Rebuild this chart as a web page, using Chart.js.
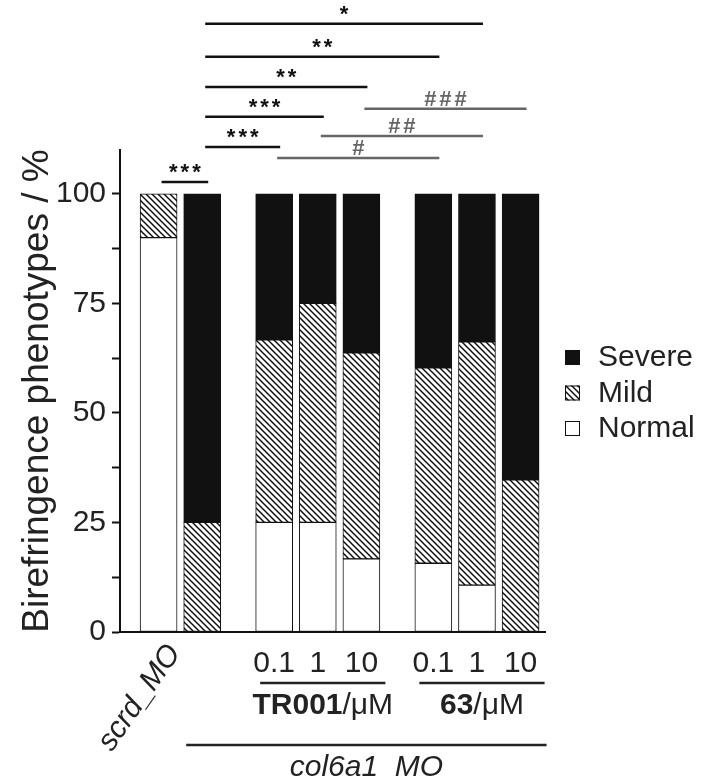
<!DOCTYPE html>
<html lang="en">
<head>
<meta charset="UTF-8">
<title>Birefringence phenotypes</title>
<style>
    body { margin: 0; background: #fff; }
    #chart { display: block; }
</style>
</head>
<body>
<canvas id="chart" width="703" height="782"></canvas>
<script src="https://cdn.jsdelivr.net/npm/chart.js"></script>
<script>
// ---- data (left to right) ----
const barLabels = ['scrd_MO', '', '0.1', '1', '10', '0.1', '1', '10'];
const barGroup = [0, 0, 1, 1, 1, 2, 2, 2];
const normal = [90, 0, 25, 25, 16.7, 15.7, 10.7, 0];
const mild = [10, 25, 41.7, 50, 47, 44.6, 55.5, 34.7];
const severe = [0, 75, 33.3, 25, 36.3, 39.7, 33.8, 65.3];
const yTicks = [0, 25, 50, 75, 100];
const groupNames = ['', 'TR001', '63'];
const groupUnit = '/\u03bcM';
const moLabel = 'col6a1  MO';

// significance comparisons (bar index from -> to)
const sigFrom = [0, 1, 1, 1, 1, 1, 2, 3, 4];
const sigTo = [1, 2, 3, 4, 5, 6, 5, 6, 7];
const sigText = ['***', '***', '***', '**', '**', '*', '#', '##', '###'];

// ---- layout ----
const FONT = 'Arial, "Liberation Sans", sans-serif';
const GROUP_GAP = 0.65;
const SIG_Y = [102.7, 110.7, 117.6, 124.4, 131.3, 138.8, 108.2, 113.2, 119.4];
const xPos = barGroup.map((g, i) => i + g * GROUP_GAP);

function hatch() {
    const c = document.createElement('canvas');
    c.width = 6; c.height = 6;
    const g = c.getContext('2d');
    g.fillStyle = '#fff';
    g.fillRect(0, 0, 6, 6);
    g.strokeStyle = '#111';
    g.lineWidth = 1.5;
    g.beginPath();
    g.moveTo(-1, -1); g.lineTo(7, 7);
    g.moveTo(-1, 5); g.lineTo(1, 7);
    g.moveTo(5, -1); g.lineTo(7, 1);
    g.stroke();
    return g.createPattern(c, 'repeat');
}
const HATCH = hatch();

const series = vals => vals.map((v, i) => ({ x: xPos[i], y: v }));
const barStyle = { borderColor: '#111', borderWidth: 1, borderSkipped: false, barThickness: 37 };

const extras = {
    id: 'extras',
    afterDraw(chart) {
        const ctx = chart.ctx, xs = chart.scales.x, ys = chart.scales.y;
        const px = i => xs.getPixelForValue(xPos[i]);
        ctx.save();

        // significance bars
        ctx.textAlign = 'center';
        ctx.textBaseline = 'alphabetic';
        sigFrom.forEach((f, k) => {
            const x1 = px(f), x2 = px(sigTo[k]);
            const yy = ys.getPixelForValue(SIG_Y[k]);
            const col = sigText[k][0] === '#' ? '#666' : '#111';
            ctx.strokeStyle = col;
            ctx.fillStyle = col;
            ctx.lineWidth = 2.5;
            ctx.beginPath();
            ctx.moveTo(x1 + 3, yy); ctx.lineTo(x2 + 6, yy);
            ctx.stroke();
            ctx.font = 'bold 22px ' + FONT;
            ctx.letterSpacing = '3px';
            ctx.fillText(sigText[k], (x1 + x2) / 2 + 6, yy - 3);
            ctx.letterSpacing = '0px';
        });

        ctx.fillStyle = '#222';
        ctx.strokeStyle = '#222';

        // scrd_MO rotated
        ctx.save();
        ctx.translate(px(0) + 16, 648);
        ctx.rotate(-55 * Math.PI / 180);
        ctx.font = 'italic 30px ' + FONT;
        ctx.textAlign = 'right';
        ctx.textBaseline = 'middle';
        ctx.fillText(barLabels[0], 0, 0);
        ctx.restore();

        // dose labels
        ctx.font = '30px ' + FONT;
        ctx.textAlign = 'center';
        ctx.textBaseline = 'middle';
        for (let i = 2; i < barLabels.length; i++) ctx.fillText(barLabels[i], px(i), 664);

        // group underlines and names
        ctx.lineWidth = 2.5;
        [1, 2].forEach(g => {
            const idx = barGroup.map((b, i) => b === g ? i : -1).filter(i => i >= 0);
            const a = px(idx[0]) - 14, b = px(idx[idx.length - 1]) + 24;
            ctx.beginPath(); ctx.moveTo(a, 683); ctx.lineTo(b, 683); ctx.stroke();
            ctx.font = 'bold 30px ' + FONT;
            const w1 = ctx.measureText(groupNames[g]).width;
            ctx.font = '30px ' + FONT;
            const w2 = ctx.measureText(groupUnit).width;
            const start = (a + b) / 2 - (w1 + w2) / 2;
            ctx.textAlign = 'left';
            ctx.font = 'bold 30px ' + FONT;
            ctx.fillText(groupNames[g], start, 706);
            ctx.font = '30px ' + FONT;
            ctx.fillText(groupUnit, start + w1, 706);
        });

        // col6a1 MO
        const l = px(1) - 16, r = px(7) + 26;
        ctx.beginPath(); ctx.moveTo(l, 745); ctx.lineTo(r, 745); ctx.stroke();
        ctx.font = 'italic 30px ' + FONT;
        ctx.textAlign = 'center';
        ctx.fillText(moLabel, (l + r) / 2, 768);

        // legend
        const items = [['Severe', '#111'], ['Mild', HATCH], ['Normal', '#fff']];
        ctx.textAlign = 'left';
        ctx.font = '30px ' + FONT;
        items.forEach((it, k) => {
            const cy = 358 + k * 35.5;
            ctx.fillStyle = it[1];
            ctx.fillRect(565, cy - 8, 15, 15);
            ctx.lineWidth = 1;
            ctx.strokeStyle = '#111';
            ctx.strokeRect(565.5, cy - 7.5, 14, 14);
            ctx.fillStyle = '#222';
            ctx.fillText(it[0], 598, cy);
        });
        ctx.restore();
    }
};

new Chart(document.getElementById('chart'), {
    type: 'bar',
    data: {
        datasets: [
            { label: 'Normal', data: series(normal), backgroundColor: '#fff', ...barStyle },
            { label: 'Mild', data: series(mild), backgroundColor: HATCH, ...barStyle },
            { label: 'Severe', data: series(severe), backgroundColor: '#111', ...barStyle }
        ]
    },
    options: {
        responsive: false,
        animation: false,
        layout: { padding: { top: 150, right: 158, bottom: 148, left: 8 } },
        plugins: { legend: { display: false }, tooltip: { enabled: false } },
        scales: {
            x: {
                type: 'linear',
                offset: false,
                min: -0.885,
                max: 8.86,
                stacked: true,
                ticks: { display: false },
                grid: { display: false },
                border: { display: true, color: '#111', width: 2 },
                afterFit: s => { s.height = 2; }
            },
            y: {
                min: 0,
                max: 110,
                stacked: true,
                afterBuildTicks: s => {
                    const vals = [];
                    yTicks.forEach((v, i) => {
                        vals.push(v);
                        if (i < yTicks.length - 1) vals.push((v + yTicks[i + 1]) / 2);
                    });
                    s.ticks = vals.map(v => ({ value: v }));
                },
                ticks: {
                    autoSkip: false,
                    callback: v => yTicks.includes(v) ? String(v) : '',
                    font: { size: 30, family: FONT },
                    color: '#222',
                    padding: 6
                },
                grid: { display: true, drawOnChartArea: false, drawTicks: true, tickLength: 8, tickColor: '#111', tickWidth: 2 },
                border: { display: true, color: '#111', width: 2 },
                title: {
                    display: true,
                    text: 'Birefringence phenotypes / %',
                    font: { size: 37, family: FONT },
                    color: '#222',
                    padding: { top: 8, bottom: 0 }
                },
                afterFit: s => { s.width = 112; }
            }
        }
    },
    plugins: [extras]
});
</script>
</body>
</html>
